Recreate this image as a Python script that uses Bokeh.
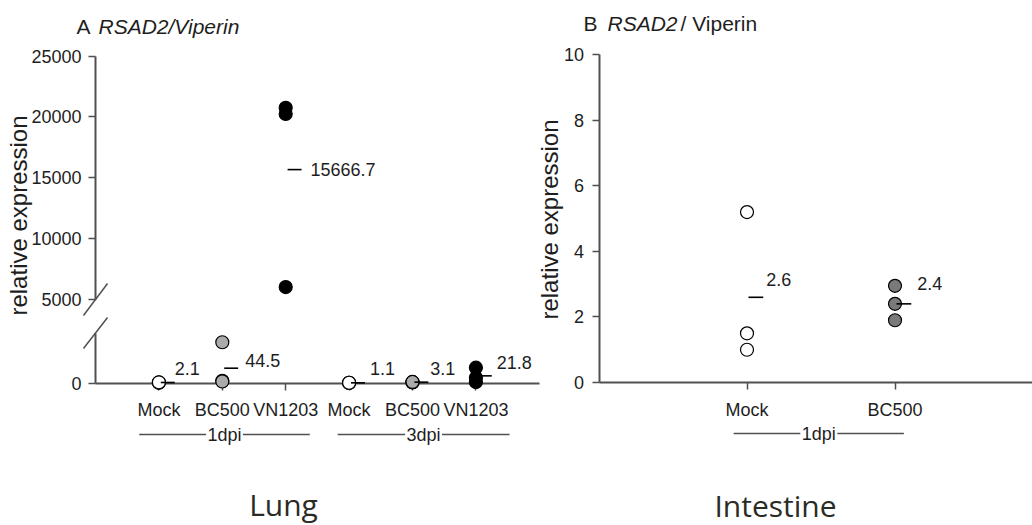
import math
from bokeh.plotting import figure
from bokeh.models import Range1d, LinearAxis, FixedTicker, ColumnDataSource
from bokeh.core.properties import value
from bokeh.embed import file_html
from bokeh.resources import INLINE

# ---------------- data ----------------
lung_categories = ["Mock", "BC500", "VN1203", "Mock", "BC500", "VN1203"]
lung_timepoints = ["1dpi", "1dpi", "1dpi", "3dpi", "3dpi", "3dpi"]
lung_mock_1dpi = [1.6, 2.0, 2.7]
lung_bc500_1dpi = [121.5, 7.0, 5.0]
lung_vn1203_1dpi = [20250.0, 20750.0, 6000.0]
lung_mock_3dpi = [0.8, 1.1, 1.4]
lung_bc500_3dpi = [2.5, 3.1, 3.7]
lung_vn1203_3dpi = [46.0, 16.0, 3.4]
lung_means = [2.1, 44.5, 15666.7, 1.1, 3.1, 21.8]
lung_ticks_upper = [5000, 10000, 15000, 20000, 25000]
lung_ticks_lower = [0]

intestine_categories = ["Mock", "BC500"]
intestine_timepoints = ["1dpi", "1dpi"]
intestine_mock_1dpi = [5.2, 1.5, 1.0]
intestine_bc500_1dpi = [2.95, 2.4, 1.9]
intestine_means = [2.6, 2.4]
intestine_ticks = [0, 2, 4, 6, 8, 10]

lung_groups = [lung_mock_1dpi, lung_bc500_1dpi, lung_vn1203_1dpi,
               lung_mock_3dpi, lung_bc500_3dpi, lung_vn1203_3dpi]
intestine_groups = [intestine_mock_1dpi, intestine_bc500_1dpi]

# ---------------- style / layout ----------------
W, H = 1032, 525
BREAK_LOW_TOP = 147      # top of the lower axis segment
BREAK_HIGH = 5000        # bottom of the upper axis segment
AXIS_COLOR = "#505050"
TEXT_COLOR = "#1e1e1e"
SANS = "Liberation Sans"
TICK_SIZE = "18px"
lung_fill = {"Mock": "white", "BC500": "#ababab", "VN1203": "black"}
intestine_fill = {"Mock": "white", "BC500": "#7a7a7a"}
lung_label_dx = [0, 7, 9, 5, 2, 5]
lung_label_dy = [-14, -8, 0, -14, -14, -13]
intestine_label_dx = [3, 6]
intestine_label_dy = [-18, -20]


def x_range_from(px0, ppu):
    return Range1d(start=-px0 / ppu, end=(W - px0) / ppu)


def y_range_from(v0, py0, ppu):
    return Range1d(start=v0 - (H - py0) / ppu, end=v0 + py0 / ppu)


left_x = x_range_from(95, 63.4)
right_x = x_range_from(598.5, 148.0)
upper_y = y_range_from(5000, 298.7, 0.01215)
low_y = y_range_from(0, 382.7, 0.337)
right_y = y_range_from(0, 382, 32.77)

p = figure(width=W, height=H, x_range=left_x, y_range=upper_y,
           output_backend="svg", toolbar_location=None, tools="",
           min_border=0, x_axis_type=None, y_axis_type=None, title=None)
p.outline_line_color = None
p.background_fill_color = "white"
p.border_fill_color = "white"
p.extra_x_ranges = {"rx": right_x, "px": Range1d(0, W)}
p.extra_y_ranges = {"low": low_y, "ry": right_y, "py": Range1d(H, 0)}


def style_axis(ax):
    ax.axis_line_color = AXIS_COLOR
    ax.axis_line_width = 2
    ax.major_tick_line_color = AXIS_COLOR
    ax.major_tick_line_width = 1.5
    ax.major_tick_out = 7
    ax.major_tick_in = 0
    ax.minor_tick_line_color = None
    ax.major_label_text_font = SANS
    ax.major_label_text_font_size = TICK_SIZE
    ax.major_label_text_color = TEXT_COLOR
    ax.major_label_standoff = 7


# ---- Lung axes ----
ax = LinearAxis(fixed_location=0, bounds=(BREAK_HIGH, max(lung_ticks_upper)),
                ticker=FixedTicker(ticks=lung_ticks_upper))
style_axis(ax)
p.add_layout(ax, "left")

ax = LinearAxis(y_range_name="low", fixed_location=0, bounds=(0, BREAK_LOW_TOP),
                ticker=FixedTicker(ticks=lung_ticks_lower))
style_axis(ax)
p.add_layout(ax, "left")

lung_x = list(range(1, len(lung_categories) + 1))
ax = LinearAxis(y_range_name="low", fixed_location=0, bounds=(0, len(lung_categories) + 1),
                ticker=FixedTicker(ticks=lung_x),
                major_label_overrides={x: c for x, c in zip(lung_x, lung_categories)})
style_axis(ax)
ax.major_label_standoff = 10
p.add_layout(ax, "below")

# ---- Intestine axes ----
ax = LinearAxis(x_range_name="rx", y_range_name="ry", fixed_location=0,
                bounds=(0, max(intestine_ticks)), ticker=FixedTicker(ticks=intestine_ticks))
style_axis(ax)
ax.major_label_standoff = 8
p.add_layout(ax, "left")

int_x = list(range(1, len(intestine_categories) + 1))
ax = LinearAxis(x_range_name="rx", y_range_name="ry", fixed_location=0, bounds=(0, 3),
                ticker=FixedTicker(ticks=int_x),
                major_label_overrides={x: c for x, c in zip(int_x, intestine_categories)})
style_axis(ax)
ax.major_label_standoff = 10
p.add_layout(ax, "below")

# ---- axis break slashes ----
p.segment(x0=[-0.19, -0.19], x1=[0.19, 0.19], y0=[315, 348], y1=[283, 317],
          y_range_name="py", line_color=AXIS_COLOR, line_width=1.5)

# ---- Lung points ----
lo = dict(x=[], y=[], fill=[])
hi = dict(x=[], y=[], fill=[])
for x, cat, vals in zip(lung_x, lung_categories, lung_groups):
    for v in vals:
        d = hi if v >= BREAK_HIGH else lo
        d["x"].append(x)
        d["y"].append(v)
        d["fill"].append(lung_fill[cat])
p.scatter("x", "y", source=ColumnDataSource(lo), y_range_name="low", size=13,
          fill_color="fill", line_color="black", line_width=1.2, level="overlay")
p.scatter("x", "y", source=ColumnDataSource(hi), size=13,
          fill_color="fill", line_color="black", line_width=1.2, level="overlay")

# ---- Lung means ----
for x, m, dx, dy in zip(lung_x, lung_means, lung_label_dx, lung_label_dy):
    rn = "default" if m >= BREAK_HIGH else "low"
    p.segment(x0=[x + 0.03], x1=[x + 0.25], y0=[m], y1=[m], y_range_name=rn,
              line_color="black", line_width=1.6, level="overlay")
    p.text(x=[x + 0.25], y=[m], text=[f"{m}"], y_range_name=rn, x_offset=dx, y_offset=dy,
           text_font=value(SANS), text_font_size=TICK_SIZE, text_color=TEXT_COLOR,
           text_align="left", text_baseline="middle")

# ---- Intestine points ----
src = dict(x=[], y=[], fill=[])
for x, cat, vals in zip(int_x, intestine_categories, intestine_groups):
    for v in vals:
        src["x"].append(x)
        src["y"].append(v)
        src["fill"].append(intestine_fill[cat])
p.scatter("x", "y", source=ColumnDataSource(src), x_range_name="rx", y_range_name="ry",
          size=13, fill_color="fill", line_color="black", line_width=1.2, level="overlay")

for x, m, dx, dy in zip(int_x, intestine_means, intestine_label_dx, intestine_label_dy):
    p.segment(x0=[x + 0.01], x1=[x + 0.11], y0=[m], y1=[m], x_range_name="rx",
              y_range_name="ry", line_color="black", line_width=1.6, level="overlay")
    p.text(x=[x + 0.11], y=[m], text=[f"{m}"], x_range_name="rx", y_range_name="ry",
           x_offset=dx, y_offset=dy, text_font=value(SANS), text_font_size=TICK_SIZE,
           text_color=TEXT_COLOR, text_align="left", text_baseline="middle")

# ---- time-point brackets ----
def bracket(x0, x1, label, gap, y_px, xr):
    mid = (x0 + x1) / 2
    p.segment(x0=[x0, mid + gap], x1=[mid - gap, x1], y0=[y_px, y_px], y1=[y_px, y_px],
              x_range_name=xr, y_range_name="py", line_color=AXIS_COLOR, line_width=1.3)
    p.text(x=[mid], y=[y_px], text=[label], x_range_name=xr, y_range_name="py",
           text_font=value(SANS), text_font_size=TICK_SIZE, text_color=TEXT_COLOR,
           text_align="center", text_baseline="middle")

bracket(0.69, 3.38, lung_timepoints[0], 0.29, 434, "default")
bracket(3.82, 6.53, lung_timepoints[3], 0.29, 434, "default")
bracket(0.91, 2.06, intestine_timepoints[0], 0.125, 433, "rx")

# ---- titles, axis titles, tissue labels (pixel space) ----
def ptext(x, y, t, font=SANS, size="21px", style="normal", align="left",
          baseline="middle", angle=0.0, color=TEXT_COLOR):
    p.text(x=[x], y=[y], text=[t], x_range_name="px", y_range_name="py",
           text_font=value(font), text_font_size=size, text_font_style=style,
           text_align=align, text_baseline=baseline, angle=angle, text_color=color)

ptext(76, 26, "A")
ptext(98, 26, "RSAD2/Viperin", style="italic")
ptext(583, 23, "B")
ptext(607, 23, "RSAD2", style="italic")
ptext(680, 23, "/ Viperin")

ptext(18, 215, "relative expression", size="24px", align="center", angle=math.pi / 2)
ptext(549, 219, "relative expression", size="24px", align="center", angle=math.pi / 2)

ptext(283, 504, "Lung", font="Open Sans", size="30px", align="center", color="#2b2b26")
ptext(775, 505, "Intestine", font="Open Sans", size="30px", align="center", color="#2b2b26")

open("out.html", "w").write(file_html(p, INLINE))
